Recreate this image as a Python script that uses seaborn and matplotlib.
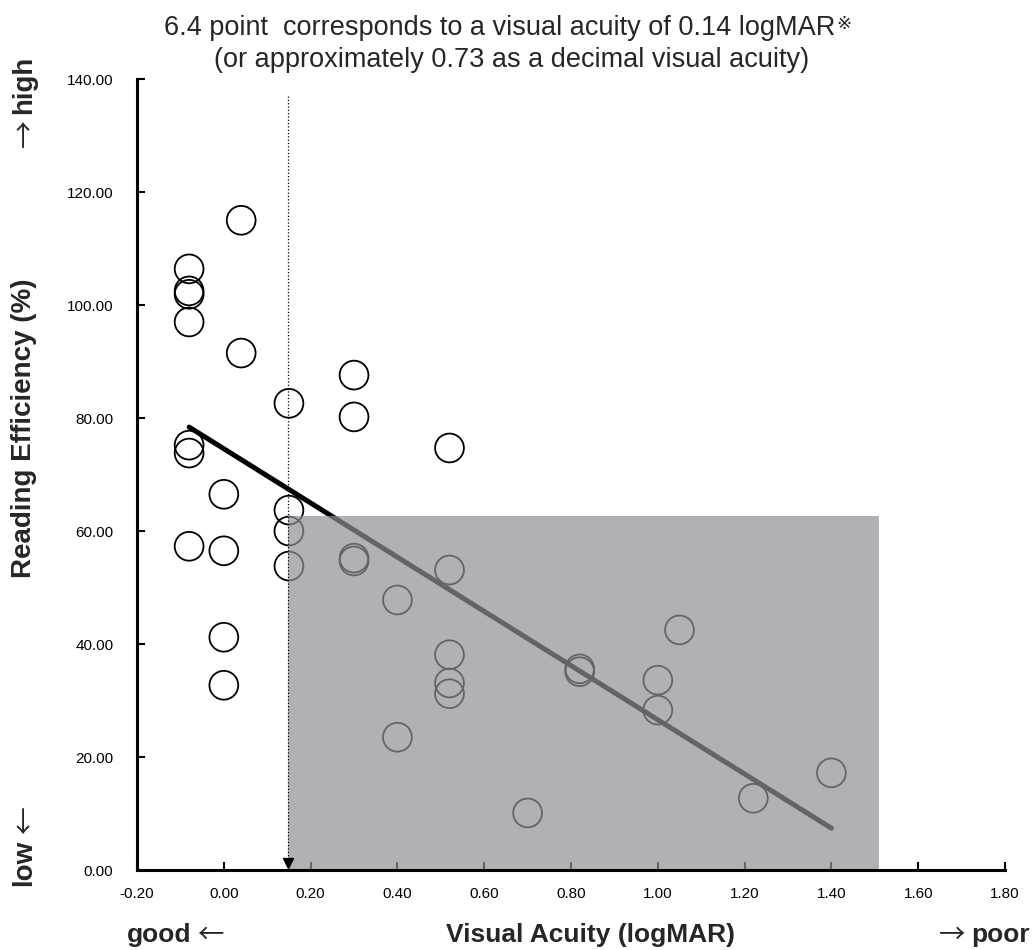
import matplotlib
matplotlib.use("Agg")
import matplotlib.pyplot as plt
from matplotlib.patches import Rectangle
from matplotlib.ticker import FuncFormatter
import seaborn as sns

# data
visual_acuity = [0.04, -0.08, -0.08, -0.08, -0.08, 0.04, 0.15, 0.30, 0.30, 0.52,
                 -0.08, -0.08, 0.00, 0.15, 0.15, 0.15, -0.08, 0.00, 0.00, 0.00,
                 0.30, 0.30, 0.52, 0.40, 0.52, 0.52, 0.52, 0.40, 0.70, 0.82,
                 0.82, 1.00, 1.00, 1.05, 1.22, 1.40]
reading_eff = [115.0, 106.4, 102.5, 101.9, 97.0, 91.5, 82.6, 87.6, 80.2, 74.7,
               75.2, 73.8, 66.5, 63.7, 60.0, 53.8, 57.3, 56.5, 41.2, 32.7,
               55.2, 54.7, 53.1, 47.8, 38.1, 33.1, 31.2, 23.5, 10.1, 35.6,
               35.1, 33.6, 28.3, 42.5, 12.7, 17.2]

trend_x = [-0.08, 1.40]
trend_y = [78.4, 7.4]

cutoff_x = 0.148       # 0.14 logMAR
shade_right = 1.51
shade_top = 62.7
cutoff_line_top = 137

x_ticks = [-0.2, 0.0, 0.2, 0.4, 0.6, 0.8, 1.0, 1.2, 1.4, 1.6, 1.8]
y_ticks = [0, 20, 40, 60, 80, 100, 120, 140]

sns.set_theme(style="white")
plt.rcParams['font.family'] = ['Liberation Sans', 'DejaVu Sans']
plt.rcParams['axes.unicode_minus'] = False

fig = plt.figure(figsize=(10.35, 9.5), dpi=100)
ax = fig.add_axes([0.1324, 0.0842, 0.971 - 0.1324, 0.9168 - 0.0842])

sns.scatterplot(x=visual_acuity, y=reading_eff, ax=ax, s=430, marker='o',
                facecolor='none', edgecolor='black', linewidth=1.3, zorder=2)
sns.lineplot(x=trend_x, y=trend_y, ax=ax, color='black', linewidth=3.6, zorder=2)

# grey box drawn over the points
ax.add_patch(Rectangle((cutoff_x, 0), shade_right - cutoff_x, shade_top,
                       facecolor='#8f9094', edgecolor='none', alpha=0.7, zorder=3))

# dotted cutoff line with arrow
ax.plot([cutoff_x, cutoff_x], [cutoff_line_top, 1.2], color='black', linestyle=':',
        linewidth=0.9, zorder=4)
ax.plot([cutoff_x], [1.2], marker='v', color='black', markersize=7, zorder=4)

ax.set_xlim(-0.2, 1.8)
ax.set_ylim(0, 140)
ax.set_xticks(x_ticks)
ax.set_yticks(y_ticks)
ax.xaxis.set_major_formatter(FuncFormatter(lambda v, p: f"{v:.2f}"))
ax.yaxis.set_major_formatter(FuncFormatter(lambda v, p: f"{v:.2f}"))
ax.tick_params(direction='in', length=6, width=1.5, labelsize=11, colors='black',
               left=True, bottom=True)
ax.tick_params(axis='y', pad=17)
ax.tick_params(axis='x', pad=12)
for side in ['top', 'right']:
    ax.spines[side].set_visible(False)
for side in ['left', 'bottom']:
    ax.spines[side].set_linewidth(2.2)
    ax.spines[side].set_color('black')
    ax.spines[side].set_zorder(5)
ax.set_xlabel('')
ax.set_ylabel('')

W, H = 1035, 950
def fx(px):
    return px / W
def fy(py):
    return 1 - py / H

arrow_font = ['Noto Sans CJK JP', 'DejaVu Sans']

t1 = fig.text(fx(500), fy(28), "6.4 point  corresponds to a visual acuity of 0.14 logMAR",
              ha='center', va='center', fontsize=19.5)
fig.text(fx(512), fy(60), "(or approximately 0.73 as a decimal visual acuity)",
         ha='center', va='center', fontsize=19.5)
fig.canvas.draw()
bb = t1.get_window_extent()
fig.text((bb.x1 + 1) / W, bb.y1 / H, "※", ha='left', va='top', fontsize=13,
         family=['DejaVu Sans'])

# y-axis side labels
fig.text(fx(24), fy(428), "Reading Efficiency (%)", rotation=90, ha='center',
         va='center', fontsize=20, fontweight='bold')
fig.text(fx(24), fy(114), "high", rotation=90, ha='center', va='bottom',
         fontsize=20, fontweight='bold')
fig.text(fx(25), fy(119), "→", rotation=90, ha='center', va='top',
         fontsize=20, family=arrow_font)
fig.text(fx(24), fy(840), "low", rotation=90, ha='center', va='top',
         fontsize=20, fontweight='bold')
fig.text(fx(25), fy(834), "←", rotation=90, ha='center', va='bottom',
         fontsize=20, family=arrow_font)

# x-axis side labels
fig.text(fx(590), fy(935), "Visual Acuity (logMAR)", ha='center', va='center',
         fontsize=19, fontweight='bold')
fig.text(fx(191), fy(935), "good", ha='right', va='center',
         fontsize=19, fontweight='bold')
fig.text(fx(197), fy(935), "←", ha='left', va='center',
         fontsize=19, family=arrow_font)
fig.text(fx(971), fy(935), "poor", ha='left', va='center',
         fontsize=19, fontweight='bold')
fig.text(fx(965), fy(935), "→", ha='right', va='center',
         fontsize=19, family=arrow_font)

fig.savefig('out.png', dpi=100)
